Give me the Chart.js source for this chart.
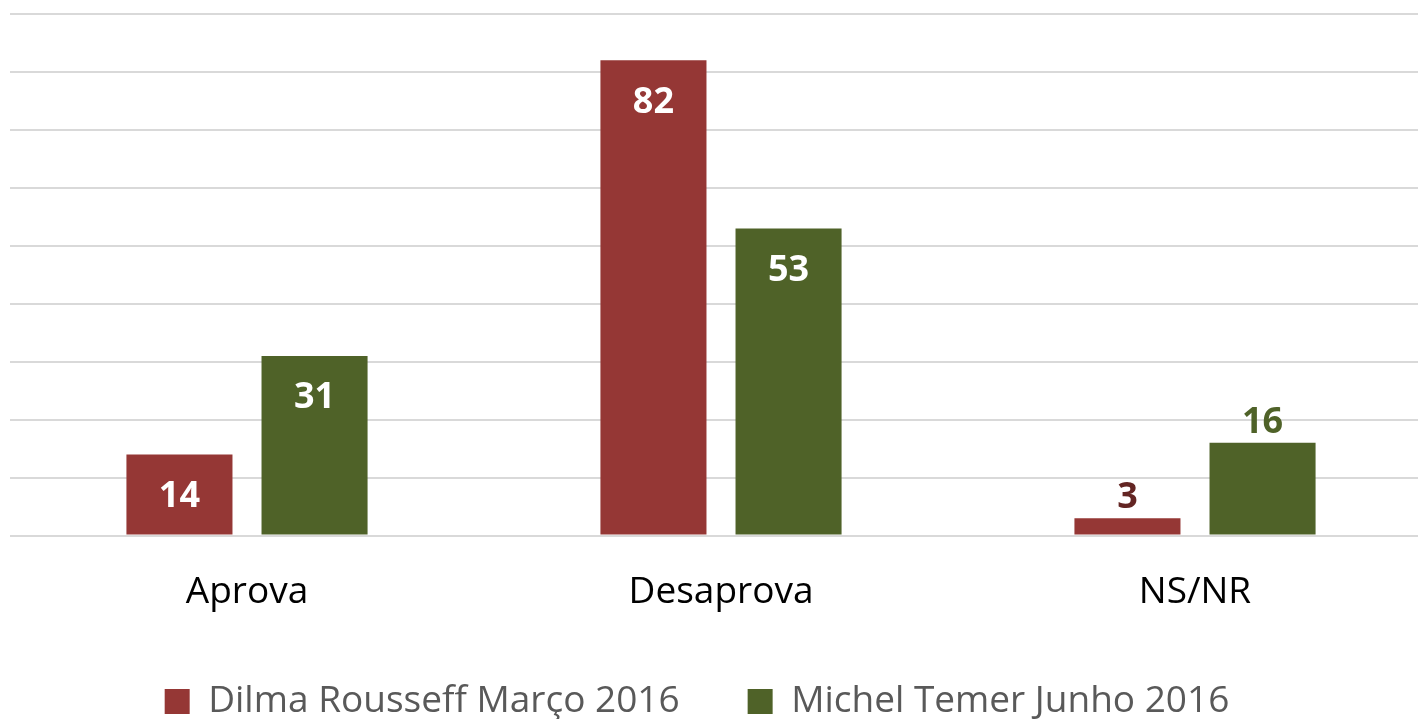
<!DOCTYPE html>
<html>
<head>
<meta charset="utf-8">
<script src="https://cdn.jsdelivr.net/npm/chart.js@4"></script>
<style>
  html, body { margin: 0; padding: 0; background: #fff; overflow: hidden; }
  #wrap { position: absolute; left: 0; top: 0; width: 1432px; height: 719px; }
</style>
</head>
<body>
<div id="wrap"><canvas id="chart" width="1432" height="719"></canvas></div>
<script>
// dados
const categorias = ['Aprova', 'Desaprova', 'NS/NR'];
const serieNomes = ['Dilma Rousseff Março 2016', 'Michel Temer Junho 2016'];
const dilma = [14, 82, 3];
const temer = [31, 53, 16];
const eixoMax = 90;
const eixoPasso = 10;

const fonte = '"Open Sans", Lato, sans-serif';

// rótulos dos valores (dentro ou fora da barra)
const rotulosPlugin = {
  id: 'rotulos',
  afterDatasetsDraw(chart) {
    const ctx = chart.ctx;
    ctx.save();
    ctx.font = 'bold 36px ' + fonte;
    ctx.textAlign = 'center';
    ctx.textBaseline = 'middle';
    chart.data.datasets.forEach((ds, i) => {
      chart.getDatasetMeta(i).data.forEach((bar, j) => {
        const dentro = ds.rotuloDentro[j];
        ctx.fillStyle = dentro ? '#ffffff' : ds.rotuloCor;
        const y = dentro ? bar.y + 42 : bar.y - 20;
        ctx.fillText(ds.data[j], bar.x, y);
      });
    });
    ctx.restore();
  }
};

// a legenda fica um pouco à esquerda do centro do canvas
const legendaDesvio = {
  id: 'legendaDesvio',
  afterLayout(chart) {
    chart.legend.left -= 24;
    chart.legend.right -= 24;
  }
};

new Chart(document.getElementById('chart').getContext('2d'), {
  type: 'bar',
  data: {
    labels: categorias,
    datasets: [{
      label: serieNomes[0],
      data: dilma,
      backgroundColor: '#953735',
      rotuloCor: '#632523',
      rotuloDentro: [true, true, false],
      categoryPercentage: 0.57,
      barPercentage: 0.785
    }, {
      label: serieNomes[1],
      data: temer,
      backgroundColor: '#4F6228',
      rotuloCor: '#4F6228',
      rotuloDentro: [true, true, false],
      categoryPercentage: 0.57,
      barPercentage: 0.785
    }]
  },
  options: {
    responsive: false,
    animation: false,
    layout: { padding: { top: 14, left: 10, right: 0, bottom: -11 } },
    plugins: {
      tooltip: { enabled: false },
      legend: {
        position: 'bottom',
        labels: {
          boxWidth: 25,
          boxHeight: 25,
          padding: 68,
          color: '#595959',
          font: { family: fonte, size: 37 }
        }
      }
    },
    scales: {
      y: {
        min: 0,
        max: eixoMax,
        ticks: { display: false, stepSize: eixoPasso },
        border: { display: false },
        grid: { color: '#d9d9d9', lineWidth: 2, drawTicks: false }
      },
      x: {
        border: { display: false },
        // marcas invisíveis só para afastar os rótulos do eixo
        grid: { display: false, drawTicks: true, tickLength: 35 },
        ticks: {
          color: '#000000',
          padding: 0,
          font: { family: fonte, size: 37 }
        }
      }
    }
  },
  plugins: [rotulosPlugin, legendaDesvio]
});
</script>
</body>
</html>
